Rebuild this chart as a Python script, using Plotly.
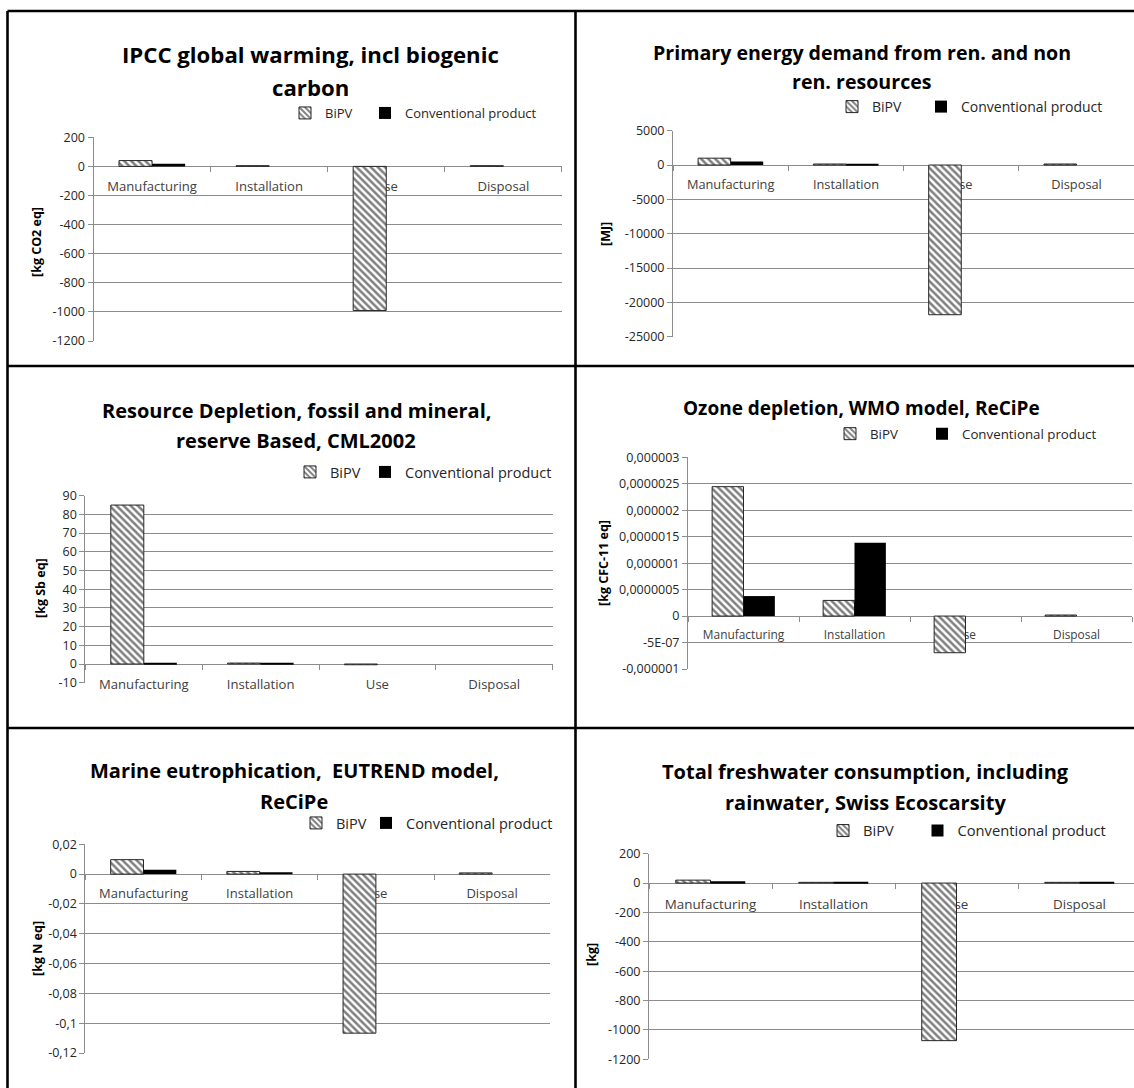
import plotly.graph_objects as go

W, H = 1134, 1088

# ---------------- data ----------------
stages = ["Manufacturing", "Installation", "Use", "Disposal"]
series_names = ["BiPV", "Conventional product"]

gw_bipv = [40, 5, -990, 5]
gw_conv = [18, None, None, None]
gw_ticks = [200, 0, -200, -400, -600, -800, -1000, -1200]
gw_ticktext = ["200", "0", "-200", "-400", "-600", "-800", "-1000", "-1200"]

ped_bipv = [1000, 150, -21800, 150]
ped_conv = [500, 150, None, None]
ped_ticks = [5000, 0, -5000, -10000, -15000, -20000, -25000]
ped_ticktext = ["5000", "0", "-5000", "-10000", "-15000", "-20000", "-25000"]

rd_bipv = [85, 0.5, -0.4, None]
rd_conv = [0.5, 0.5, None, None]
rd_ticks = [90, 80, 70, 60, 50, 40, 30, 20, 10, 0, -10]
rd_ticktext = ["90", "80", "70", "60", "50", "40", "30", "20", "10", "0", "-10"]

oz_bipv = [2.445e-6, 0.296e-6, -0.693e-6, 0.02e-6]
oz_conv = [0.378e-6, 1.386e-6, None, None]
oz_ticks = [3e-6, 2.5e-6, 2e-6, 1.5e-6, 1e-6, 0.5e-6, 0, -0.5e-6, -1e-6]
oz_ticktext = ["0,000003", "0,0000025", "0,000002", "0,0000015", "0,000001",
               "0,0000005", "0", "-5E-07", "-0,000001"]

me_bipv = [0.0097, 0.0018, -0.1067, 0.0008]
me_conv = [0.003, 0.0008, None, None]
me_ticks = [0.02, 0, -0.02, -0.04, -0.06, -0.08, -0.1, -0.12]
me_ticktext = ["0,02", "0", "-0,02", "-0,04", "-0,06", "-0,08", "-0,1", "-0,12"]

fw_bipv = [20, 5, -1073, 5]
fw_conv = [12, 5, None, 5]
fw_ticks = [200, 0, -200, -400, -600, -800, -1000, -1200]
fw_ticktext = ["200", "0", "-200", "-400", "-600", "-800", "-1000", "-1200"]

titles = [
    ["IPCC global warming, incl biogenic", "carbon"],
    ["Primary energy demand from ren. and non", "ren. resources"],
    ["Resource Depletion, fossil and mineral,", "reserve Based, CML2002"],
    ["Ozone depletion, WMO model, ReCiPe"],
    ["Marine eutrophication,  EUTREND model,", "ReCiPe"],
    ["Total freshwater consumption, including", "rainwater, Swiss Ecoscarsity"],
]
units = ["[kg CO2 eq]", "[MJ]", "[kg Sb eq]", "[kg CFC-11 eq]", "[kg N eq]", "[kg]"]

series = [
    (gw_bipv, gw_conv, gw_ticks, gw_ticktext),
    (ped_bipv, ped_conv, ped_ticks, ped_ticktext),
    (rd_bipv, rd_conv, rd_ticks, rd_ticktext),
    (oz_bipv, oz_conv, oz_ticks, oz_ticktext),
    (me_bipv, me_conv, me_ticks, me_ticktext),
    (fw_bipv, fw_conv, fw_ticks, fw_ticktext),
]

# ---------------- layout (pixel geometry, page coordinates) ----------------
plot_px = [  # x0, x1, ytop, ybottom, category width
    (93.5, 562.0, 137.3, 341.0, 117.1),
    (673.0, 1134.0, 130.7, 336.7, 115.3),
    (85.4, 552.6, 495.7, 682.7, 116.8),
    (688.0, 1132.0, 457.3, 669.0, 111.0),
    (85.4, 550.0, 844.3, 1053.0, 116.2),
    (649.0, 1134.0, 853.7, 1059.3, 123.0),
]
title_pos = [(310, [55, 87]), (862, [53, 82]), (296, [410, 441]),
             (861, [408]), (294, [770, 801]), (865, [771, 802])]
title_size = [22.2, 19.6, 20, 19, 20, 20]
legend_pos = [
    ([(308, 321), (389, 400)], 113),
    ([(855, 868), (944, 957)], 107),
    ([(313, 326), (389, 400)], 472),
    ([(854, 865), (946, 957)], 434),
    ([(319, 332), (389, 402)], 823),
    ([(846, 859), (940, 954)], 831),
]
legend_size = [13, 14, 14.5, 13.3, 14.5, 14.7]
label_size = [13.1, 12.8, 13.1, 11.9, 13, 13.4]
label_standoff = [8, 8, 8, 8, 7, 9]
unit_pos = [(36, 242), (605, 234), (40, 588), (603, 563), (37, 949), (591, 955)]

FONT = "Open Sans"
GRID = "#8c8c8c"


def px_x(x):
    return x / W


def px_y(y):
    return 1 - y / H


fig = go.Figure()
annotations = []
shapes = []
legends = {}
lg_count = 0

for i, (bipv, conv, ticks, ticktext) in enumerate(series):
    n = i + 1
    xa = "x" if n == 1 else f"x{n}"
    ya = "y" if n == 1 else f"y{n}"
    lg_names = []
    for (sx, tx) in legend_pos[i][0]:
        lg_count += 1
        name = "legend" if lg_count == 1 else f"legend{lg_count}"
        lg_names.append(name)
        legends[name] = dict(
            orientation="h", x=px_x((sx + tx) / 2 - 29.5), xanchor="left",
            y=px_y(legend_pos[i][1]), yanchor="middle",
            font=dict(family=FONT, size=legend_size[i], color="#262626"),
            bgcolor="rgba(0,0,0,0)", itemwidth=30, visible=True,
        )
    fig.add_trace(go.Bar(
        x=stages, y=bipv, name=series_names[0], xaxis=xa, yaxis=ya,
        legend=lg_names[0], showlegend=True,
        marker=dict(color="white", line=dict(color="#262626", width=1),
                    pattern=dict(shape="\\", size=5, solidity=0.5,
                                 fgcolor="black", bgcolor="white")),
    ))
    fig.add_trace(go.Bar(
        x=stages, y=conv, name=series_names[1], xaxis=xa, yaxis=ya,
        legend=lg_names[1], showlegend=True,
        marker=dict(color="black", line=dict(width=0)),
    ))

    x0, x1, yt, yb, cw = plot_px[i]
    xr = [-0.5, -0.5 + (x1 - x0) / cw]
    ymin, ymax = min(ticks), max(ticks)
    d0, d1 = px_y(yb), px_y(yt)
    zero_pos = d0 + (0 - ymin) / (ymax - ymin) * (d1 - d0)   # category axis crosses at 0
    sfx = "" if n == 1 else str(n)
    fig.update_layout(**{
        f"xaxis{sfx}": dict(
            domain=[px_x(x0), px_x(x1)], anchor="free", position=zero_pos,
            type="category", categoryarray=stages, range=xr,
            showticklabels=True, tickson="boundaries", ticks="outside",
            ticklen=5, tickcolor=GRID, ticklabelstandoff=label_standoff[i],
            tickfont=dict(family=FONT, size=label_size[i], color="#404040"),
            showgrid=False, zeroline=False, showline=True, linecolor=GRID,
            linewidth=1, layer="below traces", automargin=False,
        ),
        f"yaxis{sfx}": dict(
            domain=[d0, d1], anchor=xa,
            range=[ymin, ymax], tickvals=ticks, ticktext=ticktext,
            showgrid=True, gridcolor=GRID, gridwidth=1, zeroline=False,
            showline=True, linecolor=GRID, linewidth=1,
            ticks="outside", ticklen=5, tickcolor=GRID,
            tickfont=dict(family=FONT, size=12.5, color="#262626"),
            automargin=False,
        ),
    })

    cx, ys = title_pos[i]
    for line, yy in zip(titles[i], ys):
        annotations.append(dict(
            x=px_x(cx), y=px_y(yy), xref="paper", yref="paper", text=f"<b>{line}</b>",
            showarrow=False, xanchor="center", yanchor="middle",
            font=dict(family=FONT, size=title_size[i], color="black"),
        ))
    ux, uy = unit_pos[i]
    annotations.append(dict(
        x=px_x(ux), y=px_y(uy), xref="paper", yref="paper", text=f"<b>{units[i]}</b>",
        showarrow=False, textangle=-90, xanchor="center", yanchor="middle",
        font=dict(family=FONT, size=12.5, color="black"),
    ))

# panel borders
BW = 2.6
for (xa0, ya0, xa1, ya1) in [
    (7.5, 11, W, 11), (7.5, 11, 7.5, H), (575.5, 11, 575.5, H),
    (7.5, 366, W, 366), (7.5, 728, W, 728),
]:
    shapes.append(dict(type="line", xref="paper", yref="paper",
                       x0=px_x(xa0), x1=px_x(xa1), y0=px_y(ya0), y1=px_y(ya1),
                       line=dict(color="black", width=BW)))

fig.update_layout(
    width=W, height=H,
    margin=dict(l=0, r=0, t=0, b=0, pad=0, autoexpand=False),
    paper_bgcolor="white", plot_bgcolor="white",
    barmode="group", bargap=0.435, bargroupgap=0,
    annotations=annotations, shapes=shapes,
    font=dict(family=FONT), showlegend=True,
    **legends,
)

fig.write_html(
    "out.html",
    config={"displayModeBar": False},
    post_script="document.body.style.margin='0';document.body.style.overflow='hidden';",
)
